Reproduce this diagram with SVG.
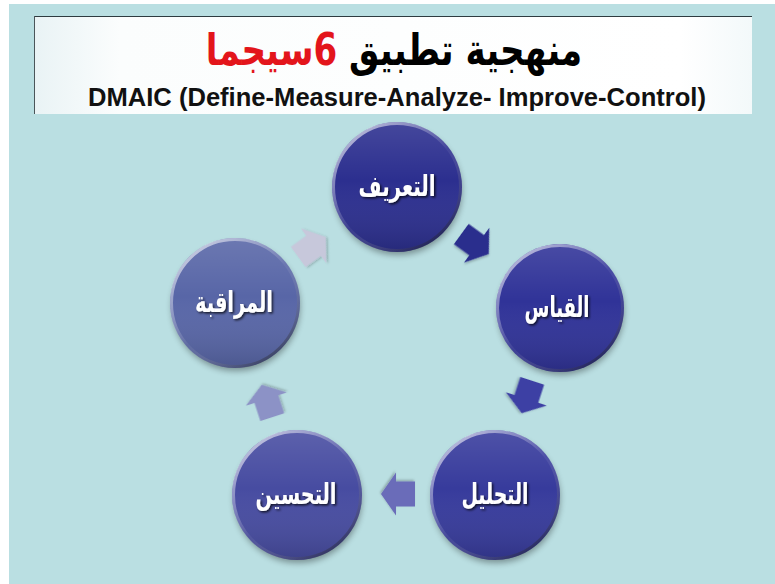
<svg xmlns="http://www.w3.org/2000/svg" width="775" height="584" viewBox="0 0 775 584">
  <defs>
    <style>
      .title-ar { font-family: "DejaVu Sans", sans-serif; font-weight: bold; font-size: 44px; }
      .title-en { font-family: "Liberation Sans", Arial, sans-serif; font-weight: bold; font-size: 25px; fill: #111; }
      .label { font-family: "DejaVu Sans", sans-serif; font-weight: bold; font-size: 29px; fill: #ffffff; text-anchor: middle; filter: url(#textShadow); }
      .sheen { fill: url(#sheen); }
      .rim { fill: none; stroke: url(#rim); stroke-width: 3; }
      .drop { fill: #000; opacity: 0.35; filter: url(#blur3); }
      .arrow { filter: url(#arrowShadow); }
    </style>
    <linearGradient id="headerFill" x1="0" y1="0" x2="1" y2="0">
      <stop offset="0" stop-color="#e9f3f5"/>
      <stop offset="0.12" stop-color="#fbfdfd"/>
      <stop offset="0.9" stop-color="#ffffff"/>
      <stop offset="1" stop-color="#f3f9fa"/>
    </linearGradient>
    <linearGradient id="sheen" x1="0" y1="0" x2="0" y2="1">
      <stop offset="0" stop-color="#ffffff" stop-opacity="0.12"/>
      <stop offset="0.45" stop-color="#ffffff" stop-opacity="0.0"/>
      <stop offset="1" stop-color="#000000" stop-opacity="0.15"/>
    </linearGradient>
    <linearGradient id="rim" x1="0.15" y1="0.1" x2="0.85" y2="0.95">
      <stop offset="0" stop-color="#ffffff" stop-opacity="0.6"/>
      <stop offset="0.5" stop-color="#ffffff" stop-opacity="0.05"/>
      <stop offset="1" stop-color="#000000" stop-opacity="0.4"/>
    </linearGradient>
    <filter id="blur3" x="-30%" y="-30%" width="160%" height="160%">
      <feGaussianBlur stdDeviation="3"/>
    </filter>
    <filter id="textShadow" x="-20%" y="-40%" width="140%" height="180%">
      <feDropShadow dx="1.5" dy="1.5" stdDeviation="1" flood-color="#000" flood-opacity="0.75"/>
    </filter>
    <filter id="arrowShadow" x="-30%" y="-30%" width="160%" height="160%">
      <feDropShadow dx="1" dy="1.5" stdDeviation="1" flood-color="#000" flood-opacity="0.25"/>
    </filter>
    <!-- block arrow pointing along +x, centred on the origin -->
    <path id="blockArrow" d="M -17,-12.5 L 2,-12.5 L 2,-21.5 L 17,0 L 2,21.5 L 2,12.5 L -17,12.5 Z"/>
  </defs>

  <!-- page background -->
  <rect x="0" y="0" width="775" height="584" fill="#ffffff"/>
  <rect x="9" y="4" width="766" height="580" fill="#badfe2"/>

  <!-- header banner -->
  <g id="header">
    <rect x="34" y="16" width="718" height="98" fill="url(#headerFill)"/>
    <line x1="34" y1="16.5" x2="752" y2="16.5" stroke="#2e3b40" stroke-width="1.2"/>
    <line x1="34.5" y1="16" x2="34.5" y2="114" stroke="#4a5559" stroke-width="1"/>
    <!-- right-to-left title, narrowed horizontally: black words on the right, red "6 Sigma" on the left -->
    <text class="title-ar" transform="translate(394 65) scale(0.775 1)" x="0" y="0" text-anchor="middle" direction="rtl" fill="#000000">منهجية تطبيق <tspan fill="#e3151b">6سيجما</tspan></text>
    <text class="title-en" x="397" y="106" text-anchor="middle" textLength="618" lengthAdjust="spacingAndGlyphs">DMAIC (Define-Measure-Analyze- Improve-Control)</text>
  </g>

  <!-- cycle arrows -->
  <g id="connectors">
    <use href="#blockArrow" class="arrow" fill="#2c2f8d" transform="translate(475 244) rotate(36)"/>
    <use href="#blockArrow" class="arrow" fill="#3e41a4" transform="translate(527 397) rotate(108)"/>
    <use href="#blockArrow" class="arrow" fill="#6b6cb9" transform="translate(398 494) rotate(180)"/>
    <use href="#blockArrow" class="arrow" fill="#8c92c6" transform="translate(267 401) rotate(252)"/>
    <use href="#blockArrow" class="arrow" fill="#c7c8db" transform="translate(312 247) rotate(324)"/>
  </g>

  <!-- Define -->
  <g id="node-define">
    <circle class="drop" cx="398" cy="191" r="64"/>
    <circle cx="397" cy="187" r="65" fill="#2c2f8f"/>
    <circle class="sheen" cx="397" cy="187" r="65"/>
    <circle class="rim" cx="397" cy="187" r="63.5"/>
    <text class="label" x="397" y="196" textLength="77" lengthAdjust="spacingAndGlyphs">التعريف</text>
  </g>

  <!-- Measure -->
  <g id="node-measure">
    <circle class="drop" cx="561" cy="312" r="63"/>
    <circle cx="560" cy="308" r="64" fill="#303398"/>
    <circle class="sheen" cx="560" cy="308" r="64"/>
    <circle class="rim" cx="560" cy="308" r="62.5"/>
    <text class="label" x="557" y="317" textLength="65" lengthAdjust="spacingAndGlyphs">القياس</text>
  </g>

  <!-- Analyze -->
  <g id="node-analyze">
    <circle class="drop" cx="496" cy="499" r="64"/>
    <circle cx="495" cy="495" r="65" fill="#373b9c"/>
    <circle class="sheen" cx="495" cy="495" r="65"/>
    <circle class="rim" cx="495" cy="495" r="63.5"/>
    <text class="label" x="495" y="504" textLength="67" lengthAdjust="spacingAndGlyphs">التحليل</text>
  </g>

  <!-- Improve -->
  <g id="node-improve">
    <circle class="drop" cx="298" cy="499" r="64"/>
    <circle cx="297" cy="495" r="65" fill="#474ca1"/>
    <circle class="sheen" cx="297" cy="495" r="65"/>
    <circle class="rim" cx="297" cy="495" r="63.5"/>
    <text class="label" x="296" y="504" textLength="81" lengthAdjust="spacingAndGlyphs">التحسين</text>
  </g>

  <!-- Control -->
  <g id="node-control">
    <circle class="drop" cx="236" cy="307" r="64"/>
    <circle cx="235" cy="303" r="65" fill="#5866a7"/>
    <circle class="sheen" cx="235" cy="303" r="65"/>
    <circle class="rim" cx="235" cy="303" r="63.5"/>
    <text class="label" x="234" y="312" textLength="78" lengthAdjust="spacingAndGlyphs">المراقبة</text>
  </g>
</svg>
